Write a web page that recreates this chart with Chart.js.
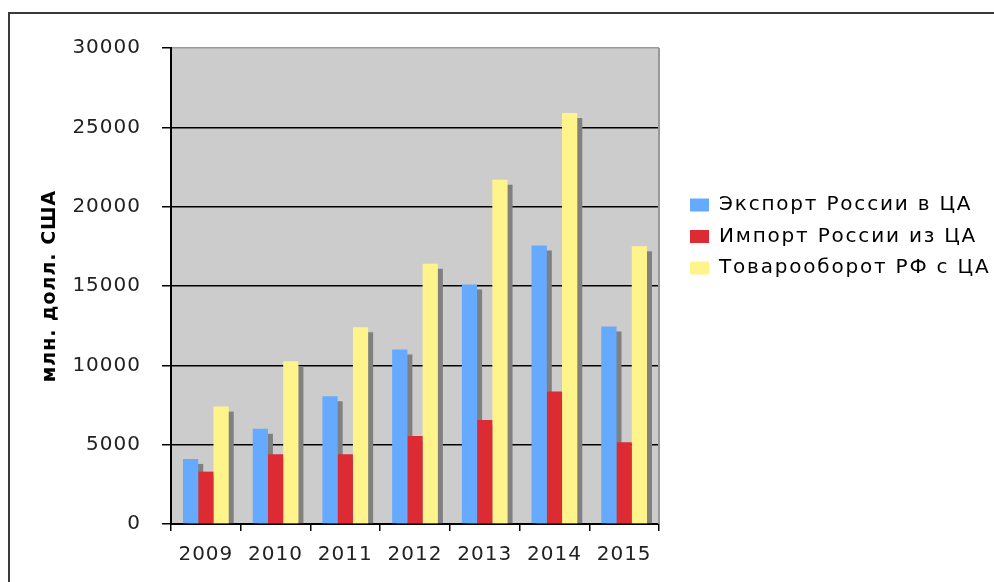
<!DOCTYPE html>
<html lang="ru">
<head>
<meta charset="UTF-8">
<title>Товарооборот России с ЦА</title>
<script src="https://cdn.jsdelivr.net/npm/chart.js"></script>
<style>
  html, body { margin: 0; padding: 0; background: #fff; }
  canvas { display: block; }
</style>
</head>
<body>
<canvas id="myChart" width="994" height="582"></canvas>
<script>
// данные (млн. долл. США)
const years = ['2009', '2010', '2011', '2012', '2013', '2014', '2015'];
const exportRu = [4100, 6000, 8050, 11000, 15100, 17550, 12450];
const importRu = [3300, 4400, 4400, 5550, 6550, 8350, 5150];
const turnover = [7400, 10250, 12400, 16400, 21700, 25900, 17500];
const yTicks = [0, 5000, 10000, 15000, 20000, 25000, 30000];
const seriesNames = ['Экспорт России в ЦА', 'Импорт России из ЦА', 'Товарооборот РФ с ЦА'];

const FONT = 'DejaVu Sans';

// фон, рамка, тени столбиков и сдвиг легенды
const decor = {
    id: 'decor',
    afterInit(chart) {
        const lg = chart.legend;
        const fit = lg.fit, draw = lg.draw;
        lg.fit = function () { fit.call(this); this.width = 335; };
        lg.draw = function () {
            const c = this.ctx;
            const l = this.left, t = this.top;
            this.left = l + 19.5;
            this.top = t + 135.5;
            c.letterSpacing = '1.8px';
            draw.call(this);
            c.letterSpacing = '1px';
            this.left = l;
            this.top = t;
        };
    },
    beforeDraw(chart) {
        const ctx = chart.ctx, a = chart.chartArea;
        ctx.letterSpacing = '1px';
        ctx.save();
        ctx.strokeStyle = '#3a3a3a';
        ctx.lineWidth = 2;
        ctx.beginPath();
        ctx.moveTo(9, 600);
        ctx.lineTo(9, 13);
        ctx.lineTo(994, 13);
        ctx.stroke();
        ctx.fillStyle = '#cccccc';
        ctx.fillRect(a.left, a.top, a.right - a.left, a.bottom - a.top);
        ctx.restore();
    },
    beforeDatasetsDraw(chart) {
        const ctx = chart.ctx, a = chart.chartArea;
        ctx.save();
        ctx.strokeStyle = '#999999';
        ctx.lineWidth = 2;
        ctx.beginPath();
        ctx.moveTo(a.right, a.top);
        ctx.lineTo(a.right, a.bottom);
        ctx.stroke();
        ctx.fillStyle = '#808080';
        chart.data.datasets.forEach((ds, i) => {
            chart.getDatasetMeta(i).data.forEach(bar => {
                const p = bar.getProps(['x', 'y', 'width', 'base'], true);
                ctx.fillRect(p.x - p.width / 2 + 5, p.y + 5, p.width, p.base - p.y - 5);
            });
        });
        ctx.restore();
    }
};

let ctx = document.getElementById('myChart').getContext('2d');
let myChart = new Chart(ctx, {
    type: 'bar',
    data: {
        labels: years,
        datasets: [
            { label: seriesNames[0], data: exportRu, backgroundColor: '#66aaff', borderWidth: 0 },
            { label: seriesNames[1], data: importRu, backgroundColor: '#dd2b33', borderWidth: 0 },
            { label: seriesNames[2], data: turnover, backgroundColor: '#fff48c', borderWidth: 0 }
        ]
    },
    options: {
        responsive: false,
        animation: false,
        devicePixelRatio: 1,
        events: [],
        layout: { padding: { left: 8, top: 48, right: 0, bottom: 0 } },
        datasets: {
            bar: { categoryPercentage: 0.656, barPercentage: 1 }
        },
        scales: {
            x: {
                offset: true,
                grid: {
                    offset: true,
                    drawOnChartArea: false,
                    tickLength: 7,
                    color: '#000',
                    lineWidth: 1.5
                },
                border: { color: '#000', width: 2 },
                ticks: {
                    font: { family: FONT, size: 20 },
                    color: '#222',
                    padding: 12,
                    maxRotation: 0,
                    autoSkip: false
                },
                afterFit: s => { s.height = 58; }
            },
            y: {
                min: 0,
                max: 30000,
                afterBuildTicks: s => { s.ticks = yTicks.map(v => ({ value: v })); },
                grid: {
                    color: c => (c.tick && c.tick.value === 30000) ? '#999999' : '#000',
                    tickColor: '#000',
                    lineWidth: 1.5,
                    tickLength: 9
                },
                border: { color: '#000', width: 2 },
                ticks: {
                    font: { family: FONT, size: 20 },
                    color: '#222',
                    padding: 21,
                    callback: v => String(v)
                },
                title: {
                    display: true,
                    text: 'млн. долл. США',
                    font: { family: FONT, size: 19, weight: 'bold' },
                    color: '#000',
                    padding: { top: 31, bottom: 0 }
                },
                afterFit: s => { s.width = 163; }
            }
        },
        plugins: {
            legend: {
                position: 'right',
                align: 'start',
                labels: {
                    boxWidth: 19,
                    boxHeight: 13,
                    padding: 11.5,
                    color: '#000',
                    font: { family: FONT, size: 20 }
                }
            },
            tooltip: { enabled: false }
        }
    },
    plugins: [decor]
});
</script>
</body>
</html>
